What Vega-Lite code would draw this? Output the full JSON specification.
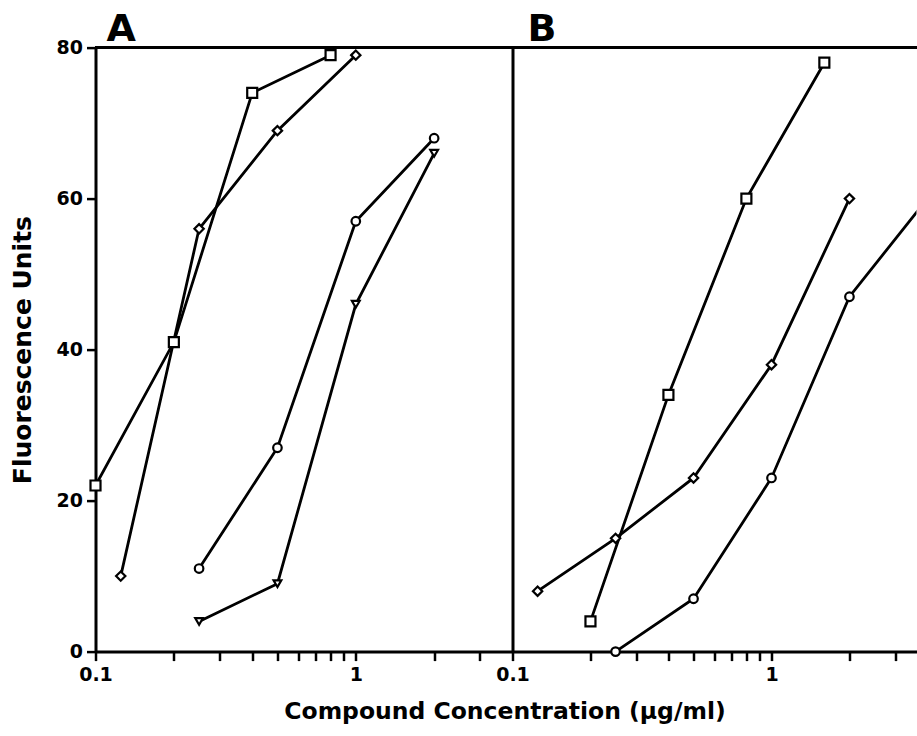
{
  "$schema": "https://vega.github.io/schema/vega-lite/v6.json",
  "autosize": {"type": "pad"},
  "padding": {"left": 10.5, "top": 10.6, "right": 0, "bottom": 8},
  "background": "white",
  "spacing": 0,
  "bounds": "flush",
  "config": {"view": {"stroke": null}, "font": "DejaVu Sans"},
  "datasets": {
    "A": [
      {"series": "square", "conc": 0.1, "fluor": 22},
      {"series": "square", "conc": 0.2, "fluor": 41},
      {"series": "square", "conc": 0.4, "fluor": 74},
      {"series": "square", "conc": 0.8, "fluor": 79},
      {"series": "diamond", "conc": 0.125, "fluor": 10},
      {"series": "diamond", "conc": 0.25, "fluor": 56},
      {"series": "diamond", "conc": 0.5, "fluor": 69},
      {"series": "diamond", "conc": 1, "fluor": 79},
      {"series": "circle", "conc": 0.25, "fluor": 11},
      {"series": "circle", "conc": 0.5, "fluor": 27},
      {"series": "circle", "conc": 1, "fluor": 57},
      {"series": "circle", "conc": 2, "fluor": 68},
      {"series": "triangle", "conc": 0.25, "fluor": 4},
      {"series": "triangle", "conc": 0.5, "fluor": 9},
      {"series": "triangle", "conc": 1, "fluor": 46},
      {"series": "triangle", "conc": 2, "fluor": 66}
    ],
    "B": [
      {"series": "square", "conc": 0.2, "fluor": 4},
      {"series": "square", "conc": 0.4, "fluor": 34},
      {"series": "square", "conc": 0.8, "fluor": 60},
      {"series": "square", "conc": 1.6, "fluor": 78},
      {"series": "diamond", "conc": 0.125, "fluor": 8},
      {"series": "diamond", "conc": 0.25, "fluor": 15},
      {"series": "diamond", "conc": 0.5, "fluor": 23},
      {"series": "diamond", "conc": 1, "fluor": 38},
      {"series": "diamond", "conc": 2, "fluor": 60},
      {"series": "circle", "conc": 0.25, "fluor": 0},
      {"series": "circle", "conc": 0.5, "fluor": 7},
      {"series": "circle", "conc": 1, "fluor": 23},
      {"series": "circle", "conc": 2, "fluor": 47},
      {"series": "circle", "conc": 4, "fluor": 60}
    ]
  },
  "hconcat": [
    {
      "width": 417,
      "height": 604,
      "data": {"name": "A"},
      "encoding": {
        "y": {
          "field": "fluor", "type": "quantitative",
          "scale": {"domain": [0, 80], "nice": false},
          "axis": {
            "values": [0, 20, 40, 60, 80],
            "grid": false, "tickSize": 9, "tickWidth": 2.5, "tickColor": "black",
            "domainWidth": 3, "domainColor": "black",
            "labelFont": "DejaVu Sans", "labelFontWeight": "bold", "labelFontSize": 19, "labelColor": "black",
            "labelPadding": 4,
            "title": "Fluorescence Units",
            "titleFont": "DejaVu Sans", "titleFontWeight": "bold", "titleFontSize": 25, "titleColor": "black",
            "titleX": -73, "titleY": 302, "titleAngle": 270, "titleAlign": "center", "titleBaseline": "middle"
          }
        }
      },
      "layer": [
        {"mark": {"type": "rule", "color": "black", "strokeWidth": 3}, "encoding": {"y": {"datum": 80}}},
        {
          "mark": {"type": "line", "color": "black", "strokeWidth": 2.8, "clip": true},
          "encoding": {
            "x": {
              "field": "conc", "type": "quantitative",
              "scale": {"type": "log", "domain": [0.1, 4], "nice": false, "zero": false},
              "axis": {
                "values": [0.1, 0.2, 0.3, 0.4, 0.5, 0.6, 0.7, 0.8, 0.9, 1, 2, 3],
                "labelExpr": "datum.value == 0.1 ? '0.1' : (datum.value == 1 ? '1' : '')",
                "grid": false, "tickSize": 9, "tickWidth": 2.5, "tickColor": "black",
                "domainWidth": 3, "domainColor": "black",
                "labelFont": "DejaVu Sans", "labelFontWeight": "bold", "labelFontSize": 19, "labelColor": "black",
                "labelPadding": 5, "labelFlush": false, "labelOverlap": false,
                "title": "Compound Concentration (µg/ml)",
                "titleFont": "DejaVu Sans", "titleFontWeight": "bold", "titleFontSize": 23.5, "titleColor": "black",
                "titleX": 409, "titleY": 67, "titleAlign": "center", "titleBaseline": "alphabetic"
              }
            },
            "detail": {"field": "series"}
          }
        },
        {
          "mark": {"type": "point", "filled": true, "fill": "white", "stroke": "black", "strokeWidth": 2.2, "opacity": 1},
          "encoding": {
            "x": {"field": "conc", "type": "quantitative"},
            "shape": {"field": "series", "type": "nominal", "legend": null,
              "scale": {"domain": ["square", "diamond", "circle", "triangle"], "range": ["square", "diamond", "circle", "triangle-down"]}},
            "size": {"field": "series", "type": "nominal", "legend": null,
              "scale": {"domain": ["square", "diamond", "circle", "triangle"], "range": [100, 60, 80, 80]}}
          }
        },
        {
          "data": {"values": [{"panel": "A", "conc": 0.1, "fluor": 80}]},
          "mark": {"type": "text", "align": "left", "baseline": "alphabetic", "dx": 11, "dy": -7, "fontSize": 38, "fontWeight": "bold", "font": "DejaVu Sans", "color": "black"},
          "encoding": {"x": {"field": "conc", "type": "quantitative"}, "y": {"field": "fluor", "type": "quantitative"}, "text": {"field": "panel"}}
        }
      ]
    },
    {
      "width": 404,
      "height": 604,
      "data": {"name": "B"},
      "encoding": {
        "y": {
          "field": "fluor", "type": "quantitative",
          "scale": {"domain": [0, 80], "nice": false},
          "axis": {"grid": false, "labels": false, "ticks": false, "domainWidth": 3, "domainColor": "black", "title": null}
        }
      },
      "layer": [
        {"mark": {"type": "rule", "color": "black", "strokeWidth": 3}, "encoding": {"y": {"datum": 80}}},
        {
          "mark": {"type": "line", "color": "black", "strokeWidth": 2.8, "clip": true},
          "encoding": {
            "x": {
              "field": "conc", "type": "quantitative",
              "scale": {"type": "log", "domain": [0.1, 3.63], "nice": false, "zero": false},
              "axis": {
                "values": [0.1, 0.2, 0.3, 0.4, 0.5, 0.6, 0.7, 0.8, 0.9, 1, 2, 3],
                "labelExpr": "datum.value == 0.1 ? '0.1' : (datum.value == 1 ? '1' : '')",
                "grid": false, "tickSize": 9, "tickWidth": 2.5, "tickColor": "black",
                "domainWidth": 3, "domainColor": "black",
                "labelFont": "DejaVu Sans", "labelFontWeight": "bold", "labelFontSize": 19, "labelColor": "black",
                "labelPadding": 5, "labelFlush": false, "labelOverlap": false,
                "title": null
              }
            },
            "detail": {"field": "series"}
          }
        },
        {
          "transform": [{"filter": "datum.conc < 3.6"}],
          "mark": {"type": "point", "filled": true, "fill": "white", "stroke": "black", "strokeWidth": 2.2, "opacity": 1},
          "encoding": {
            "x": {"field": "conc", "type": "quantitative"},
            "shape": {"field": "series", "type": "nominal", "legend": null,
              "scale": {"domain": ["square", "diamond", "circle", "triangle"], "range": ["square", "diamond", "circle", "triangle-down"]}},
            "size": {"field": "series", "type": "nominal", "legend": null,
              "scale": {"domain": ["square", "diamond", "circle", "triangle"], "range": [100, 60, 80, 80]}}
          }
        },
        {
          "data": {"values": [{"panel": "B", "conc": 0.1, "fluor": 80}]},
          "mark": {"type": "text", "align": "left", "baseline": "alphabetic", "dx": 15, "dy": -7, "fontSize": 38, "fontWeight": "bold", "font": "DejaVu Sans", "color": "black"},
          "encoding": {"x": {"field": "conc", "type": "quantitative"}, "y": {"field": "fluor", "type": "quantitative"}, "text": {"field": "panel"}}
        }
      ]
    }
  ]
}
